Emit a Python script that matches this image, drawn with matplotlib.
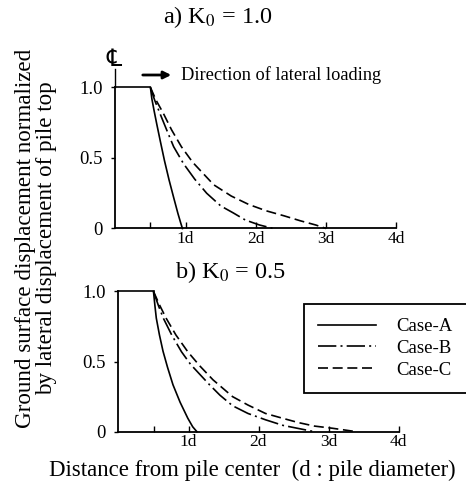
import matplotlib
matplotlib.use('Agg')
import matplotlib.pyplot as plt

plt.rcParams['font.family'] = ['Liberation Serif', 'DejaVu Serif', 'DejaVu Sans']
plt.rcParams['mathtext.fontset'] = 'stix'

# a) K0 = 1.0
top_a_x = [0.50, 0.52, 0.55, 0.59, 0.64, 0.70, 0.765, 0.83, 0.89, 0.93, 0.955]
top_a_y = [1.00, 0.92, 0.84, 0.74, 0.62, 0.48, 0.344, 0.22, 0.108, 0.04, 0.0]
top_b_x = [0.50, 0.56, 0.64, 0.73, 0.83, 0.97, 1.13, 1.30, 1.50, 1.68, 1.85, 2.05, 2.25]
top_b_y = [1.00, 0.91, 0.81, 0.70, 0.58, 0.46, 0.35, 0.25, 0.16, 0.11, 0.06, 0.025, 0.0]
top_c_x = [0.50, 0.58, 0.68, 0.80, 0.94, 1.10, 1.25, 1.40, 1.65, 1.90, 2.15, 2.40, 2.63, 2.85, 3.0]
top_c_y = [1.00, 0.91, 0.82, 0.70, 0.58, 0.47, 0.39, 0.31, 0.23, 0.17, 0.125, 0.09, 0.055, 0.025, 0.0]

# b) K0 = 0.5
bot_a_x = [0.50, 0.52, 0.54, 0.585, 0.636, 0.70, 0.778, 0.88, 0.99, 1.06, 1.12]
bot_a_y = [1.00, 0.90, 0.81, 0.69, 0.574, 0.46, 0.335, 0.21, 0.096, 0.035, 0.0]
bot_b_x = [0.50, 0.57, 0.64, 0.76, 0.90, 1.03, 1.16, 1.30, 1.45, 1.63, 1.85, 2.10, 2.35, 2.55, 2.80]
bot_b_y = [1.00, 0.90, 0.81, 0.69, 0.57, 0.48, 0.41, 0.335, 0.26, 0.185, 0.13, 0.085, 0.045, 0.025, 0.0]
bot_c_x = [0.50, 0.59, 0.68, 0.82, 0.99, 1.16, 1.35, 1.63, 1.85, 2.10, 2.35, 2.57, 2.80, 3.05, 3.40]
bot_c_y = [1.00, 0.90, 0.81, 0.69, 0.57, 0.47, 0.37, 0.25, 0.19, 0.13, 0.095, 0.065, 0.04, 0.025, 0.0]

case_labels = ['Case-A', 'Case-B', 'Case-C']
xtick_pos = [0.5, 1, 2, 3, 4]
xtick_lab = ['', '1d', '2d', '3d', '4d']
ytick_pos = [0, 0.5, 1.0]
ytick_lab = ['0', '0.5', '1.0']

lw = 1.2
styles = ['-', (0, (11, 2.5, 1.2, 2.5)), (0, (6, 2.8))]

fig = plt.figure(figsize=(4.66, 4.87), dpi=100)
W, H = 466.0, 487.0
ax1 = fig.add_axes([115.3 / W, 1 - 228.5 / H, 281.2 / W, 141 / H])
ax2 = fig.add_axes([118.5 / W, 1 - 431.7 / H, 280 / W, 140.2 / H])


def setup(ax):
    ax.set_xlim(0, 4)
    ax.set_ylim(0, 1)
    for s in ['top', 'right']:
        ax.spines[s].set_visible(False)
    for s in ['left', 'bottom']:
        ax.spines[s].set_linewidth(1.3)
    ax.set_xticks(xtick_pos)
    ax.set_xticklabels(xtick_lab)
    ax.set_yticks(ytick_pos)
    ax.set_yticklabels(ytick_lab)
    ax.tick_params(axis='x', direction='in', length=4, width=1, pad=2, labelsize=12.5)
    ax.tick_params(axis='y', direction='out', length=3, width=1, pad=6, labelsize=13.5)
    ax.plot([0, 0.5], [1, 1], color='k', lw=lw, clip_on=False)


setup(ax1)
setup(ax2)

lines = []
for ax, data in [(ax1, [(top_a_x, top_a_y), (top_b_x, top_b_y), (top_c_x, top_c_y)]),
                 (ax2, [(bot_a_x, bot_a_y), (bot_b_x, bot_b_y), (bot_c_x, bot_c_y)])]:
    lines = []
    for (xs, ys), st, lab in zip(data, styles, case_labels):
        ln, = ax.plot(xs, ys, color='k', lw=lw, linestyle=st, label=lab, clip_on=False)
        lines.append(ln)

# centre line stub and symbol
ax1.plot([0, 0], [1, 1.13], color='k', lw=1, clip_on=False)
fig.text(114 / W, 1 - 60 / H, '\u2104', fontsize=17, ha='center', va='center')

# loading direction arrow
fig.add_artist(matplotlib.patches.FancyArrowPatch((140 / W, 1 - 75 / H), (174 / W, 1 - 75 / H),
                                                  transform=fig.transFigure, arrowstyle='-|>',
                                                  mutation_scale=11, lw=2, color='k'))
fig.text(181 / W, 1 - 75 / H, 'Direction of lateral loading', fontsize=13.2, va='center')

fig.text(217.5 / W, 1 - 17 / H, 'a) K$_0$ = 1.0', fontsize=17.5, ha='center', va='center')
fig.text(230 / W, 1 - 272 / H, 'b) K$_0$ = 0.5', fontsize=17.5, ha='center', va='center')

fig.text(36 / W, 1 - 238 / H,
         'Ground surface displacement normalized\nby lateral displacement of pile top',
         fontsize=16.6, rotation=90, ha='center', va='center', multialignment='center',
         linespacing=1.05)
fig.text(252.5 / W, 1 - 470 / H, 'Distance from pile center  (d : pile diameter)',
         fontsize=16.4, ha='center', va='center')

leg = ax2.legend(handles=lines, loc='upper left',
                 bbox_to_anchor=(304 / W, 1 - 304 / H, 180 / W, 0),
                 bbox_transform=fig.transFigure, mode='expand', fancybox=False,
                 edgecolor='k', framealpha=1, borderaxespad=0, fontsize=13.5,
                 handlelength=3.1, handletextpad=1.05, labelspacing=0.25, borderpad=0.75)
leg.get_frame().set_linewidth(1.3)

fig.savefig('out.png', dpi=100)
